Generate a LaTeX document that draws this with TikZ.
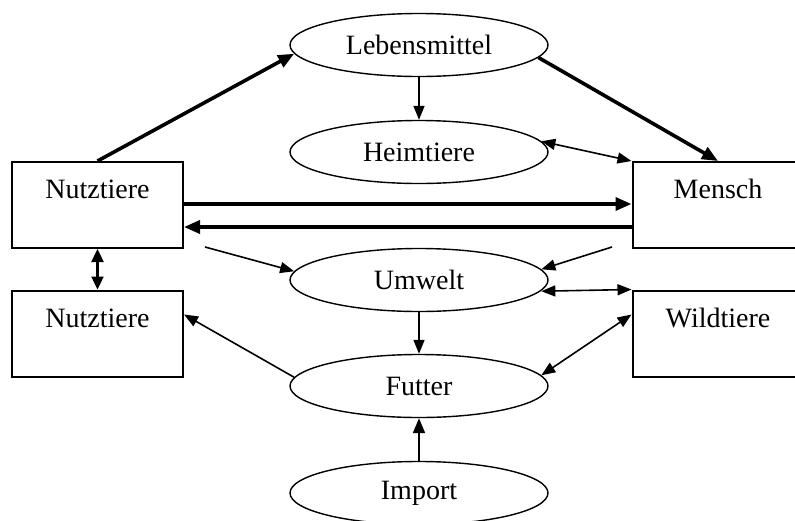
\documentclass[tikz,border=0pt]{standalone}
\usepackage{fontspec}
\setmainfont{Liberation Serif}
\usetikzlibrary{shapes.geometric,arrows.meta}

\tikzset{
  oval/.style={draw, line width=1.4pt, ellipse, minimum width=258pt, minimum height=63pt, inner sep=0pt},
  box/.style={draw, line width=2pt, rectangle, minimum width=171pt, minimum height=86pt, inner sep=0pt},
  lbl/.style={anchor=base, inner sep=0pt},
  thin/.style={line width=1.6pt, -{Triangle[length=14pt,width=11pt]}},
  thinboth/.style={line width=1.6pt, {Triangle[length=14pt,width=11pt]}-{Triangle[length=14pt,width=11pt]}},
  heavy/.style={line width=3.6pt, -{Triangle[length=16pt,width=13pt]}},
}

\begin{document}
\begin{tikzpicture}[x=1pt, y=-1pt, font=\fontsize{28}{33}\selectfont]
  \useasboundingbox (0,0) rectangle (795,520);
  \clip (0,0) rectangle (795,520);

  % ellipses in the middle column
  \node[oval] (leb) at (419,45)  {Lebensmittel};
  \node[oval] (him) at (419,152) {Heimtiere};
  \node[oval] (umw) at (419,280) {Umwelt};
  \node[oval] (fut) at (419,386) {Futter};
  \node[oval] (imp) at (419,493) {Import};

  % boxes on both sides, labels set near the top edge
  \node[box] (nt1)  at (97.5,205)   {};
  \node[box] (nt2)  at (97.5,333.5) {};
  \node[box] (men)  at (718,205)    {};
  \node[box] (wild) at (718,333.5)  {};
  \node[lbl] (nt1l)  at (97.5,198) {Nutztiere};
  \node[lbl] (nt2l)  at (97.5,327) {Nutztiere};
  \node[lbl] (menl)  at (718,198)  {Mensch};
  \node[lbl] (wildl) at (718,327)  {Wildtiere};

  % free starting points of the two short arrows towards Umwelt
  \coordinate (fromL) at (205,247);
  \coordinate (fromR) at (612,247);

  % heavy flows
  \draw[heavy] (nt1.north) -- (leb.184);
  \draw[heavy] (leb.-6) -- (men.north);
  \draw[heavy] ([yshift=1pt]nt1.east) -- ([yshift=1pt]men.west);
  \draw[heavy] ([yshift=-22pt]men.west) -- ([yshift=-22pt]nt1.east);

  % thin flows
  \draw[thin] (leb.south) -- (him.north);
  \draw[thinboth] (him.5) -- (men.north west);
  \draw[thin] (fromL) -- (umw.176);
  \draw[thin] (fromR) -- (umw.5);
  \draw[thinboth] ([yshift=-0.5pt]umw.-5) -- (wild.north west);
  \draw[thin] (umw.south) -- (fut.north);
  \draw[thinboth] (fut.5) -- ([yshift=19pt]wild.west);
  \draw[thin] (fut.176) -- ([yshift=19pt]nt2.east);
  \draw[line width=2pt, -{Triangle[length=15pt,width=12pt]}] (imp.north) -- (fut.south);
  \draw[line width=2.4pt, {Triangle[length=13pt,width=12pt]}-{Triangle[length=13pt,width=12pt]}] (nt1.south) -- (nt2.north);
\end{tikzpicture}
\end{document}
